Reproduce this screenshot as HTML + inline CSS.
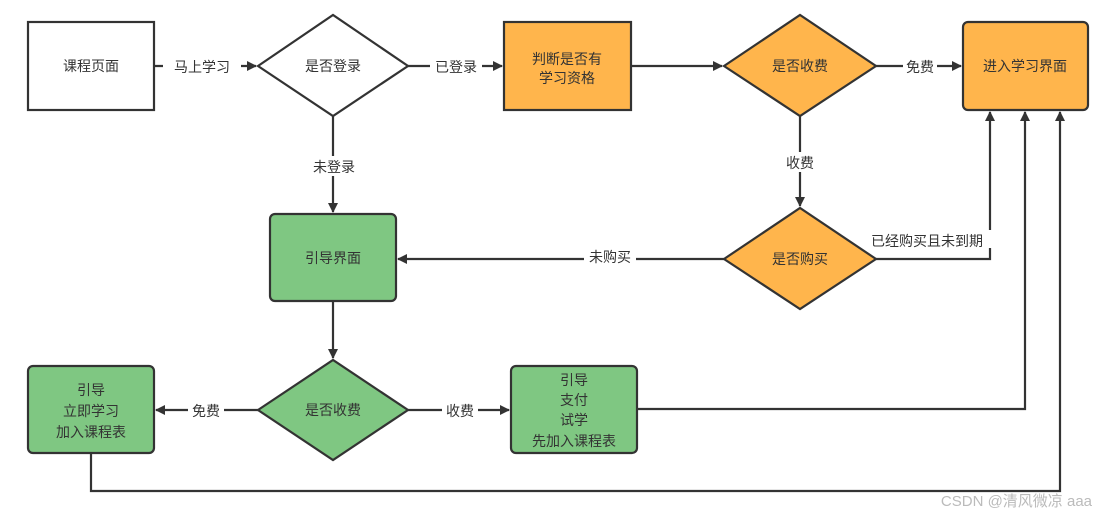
<!DOCTYPE html>
<html><head><meta charset="utf-8"><style>
html,body{margin:0;padding:0;background:#fff;}
svg text{font-family:"Liberation Sans","Noto Sans CJK SC",sans-serif;font-size:14px;fill:#333;}
.l{fill:none;stroke:#333;stroke-width:2.2;}
.bg{fill:#fff;stroke:none;}
</style></head><body>
<svg width="1097" height="518" viewBox="0 0 1097 518" xmlns="http://www.w3.org/2000/svg">
<defs><marker id="a" markerWidth="10" markerHeight="10" refX="9" refY="5" orient="auto" markerUnits="userSpaceOnUse"><path d="M0,0 L10,5 L0,10 z" fill="#333"/></marker></defs>
<g stroke="#333" stroke-width="2.2">
<rect x="28" y="22" width="126" height="88" fill="#fff"/>
<polygon points="258,66 333,15 408,66 333,116" fill="#fff"/>
<rect x="504" y="22" width="127" height="88" fill="#FFB54C"/>
<polygon points="724,66 800,15 876,66 800,116" fill="#FFB54C"/>
<rect x="963" y="22" width="125" height="88" rx="5" fill="#FFB54C"/>
<polygon points="724,259 800,208 876,259 800,309" fill="#FFB54C"/>
<rect x="270" y="214" width="126" height="87" rx="5" fill="#7FC782"/>
<polygon points="258,410 333,360 408,410 333,460" fill="#7FC782"/>
<rect x="28" y="366" width="126" height="87" rx="5" fill="#7FC782"/>
<rect x="511" y="366" width="126" height="87" rx="5" fill="#7FC782"/>
</g>
<g class="l">
<path d="M154,66 H256" marker-end="url(#a)"/>
<path d="M408,66 H502" marker-end="url(#a)"/>
<path d="M631,66 H722" marker-end="url(#a)"/>
<path d="M876,66 H961" marker-end="url(#a)"/>
<path d="M333,116 V212" marker-end="url(#a)"/>
<path d="M800,116 V206" marker-end="url(#a)"/>
<path d="M724,259 H398" marker-end="url(#a)"/>
<path d="M876,259 H990 V112" marker-end="url(#a)"/>
<path d="M333,301 V358" marker-end="url(#a)"/>
<path d="M258,410 H156" marker-end="url(#a)"/>
<path d="M408,410 H509" marker-end="url(#a)"/>
<path d="M637,409 H1025 V112" marker-end="url(#a)"/>
<path d="M91,453 V491 H1060 V112" marker-end="url(#a)"/>
</g>
<g class="bg">
<rect x="163" y="58" width="78" height="18"/>
<rect x="430" y="58" width="52" height="18"/>
<rect x="903" y="58" width="34" height="18"/>
<rect x="308" y="156" width="52" height="20"/>
<rect x="783" y="152" width="34" height="20"/>
<rect x="584" y="248" width="52" height="18"/>
<rect x="862" y="230" width="130" height="18"/>
<rect x="188" y="401" width="36" height="18"/>
<rect x="442" y="401" width="36" height="18"/>
</g>
<g text-anchor="middle">
<text x="91" y="71">课程页面</text>
<text x="333" y="71">是否登录</text>
<text x="567" y="64">判断是否有</text>
<text x="567" y="83">学习资格</text>
<text x="800" y="71">是否收费</text>
<text x="1025" y="71">进入学习界面</text>
<text x="800" y="264">是否购买</text>
<text x="333" y="263">引导界面</text>
<text x="333" y="415">是否收费</text>
<text x="91" y="395">引导</text>
<text x="91" y="416">立即学习</text>
<text x="91" y="437">加入课程表</text>
<text x="574" y="385">引导</text>
<text x="574" y="405">支付</text>
<text x="574" y="425">试学</text>
<text x="574" y="446">先加入课程表</text>
<text x="202" y="72">马上学习</text>
<text x="456" y="72">已登录</text>
<text x="920" y="72">免费</text>
<text x="334" y="172">未登录</text>
<text x="800" y="168">收费</text>
<text x="610" y="262">未购买</text>
<text x="927" y="246">已经购买且未到期</text>
<text x="206" y="416">免费</text>
<text x="460" y="416">收费</text>
</g>
<text x="1092" y="506" text-anchor="end" style="fill:#bbb;font-size:15px">CSDN @清风微凉 aaa</text>
</svg>
</body></html>
